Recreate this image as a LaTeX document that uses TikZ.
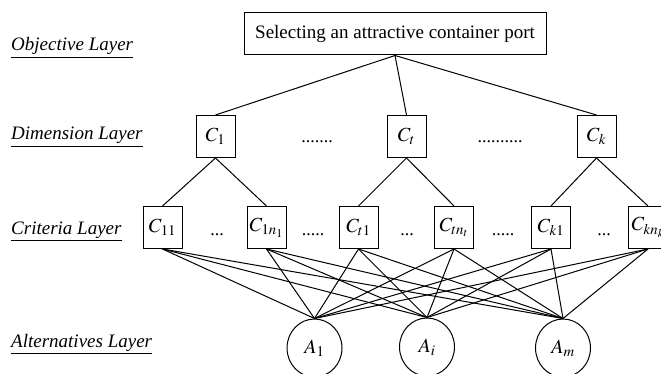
\documentclass[tikz,border=0pt]{standalone}
\usepackage{mathptmx}
\usepackage{fontspec}
\setmainfont{Liberation Serif}
\usetikzlibrary{shapes.geometric}
\tikzset{
  layer/.style={anchor=base west,inner sep=0,font=\fontsize{19}{21}\selectfont\itshape},
  goalbox/.style={draw,line width=1pt,minimum width=302pt,minimum height=42pt,inner sep=0,font=\fontsize{19}{21}\selectfont},
  critbox/.style={draw,line width=1pt,minimum width=39pt,minimum height=42pt,inner sep=0,font=\fontsize{20}{22}\selectfont},
  altnode/.style={draw,ellipse,line width=1pt,minimum width=55pt,minimum height=58pt,inner sep=0,font=\fontsize{20}{22}\selectfont},
  dots/.style={inner sep=0,font=\fontsize{18}{20}\selectfont},
  link/.style={line width=1pt}
}
\begin{document}
\begin{tikzpicture}[x=1pt,y=-1pt]
  \useasboundingbox (0,0) rectangle (661,374);
  % layer names
  \node[layer] (objlayer) at (11,51) {\underline{Objective Layer}};
  \node[layer] (dimlayer) at (11,140) {\underline{Dimension Layer}};
  \node[layer] (critlayer) at (11,234) {\underline{Criteria Layer}};
  \node[layer] (altlayer) at (11,347) {\underline{Alternatives Layer}};
  % goal
  \node[goalbox] (goal) at (395,34) {Selecting an attractive container port};
  % dimensions
  \node[critbox] (c1) at (215.5,136.5) {$C_1$};
  \node[critbox] (ct) at (406.5,136.5) {$C_t$};
  \node[critbox] (ck) at (596.5,136.5) {$C_k$};
  \node[dots] (dimdots1) at (317,142) {.......};
  \node[dots] (dimdots2) at (500,142) {..........};
  % criteria
  \node[critbox] (c11) at (162.5,227.5) {$C_{11}$};
  \node[critbox] (c1n) at (266.5,227.5) {$C_{1n_1}$};
  \node[critbox] (ct1) at (358.5,227.5) {$C_{t1}$};
  \node[critbox] (ctn) at (454,227.5) {$C_{tn_t}$};
  \node[critbox] (ck1) at (551,227.5) {$C_{k1}$};
  \node[critbox] (ckn) at (648,227.5) {$C_{kn_k}$};
  \node[dots] (critdots1) at (217,235) {...};
  \node[dots] (critdots2) at (313,235) {.....};
  \node[dots] (critdots3) at (407,235) {...};
  \node[dots] (critdots4) at (503,235) {.....};
  \node[dots] (critdots5) at (604,235) {...};
  % alternatives
  \node[altnode] (a1) at (314.5,348) {$A_1$};
  \node[altnode] (ai) at (427,347) {$A_i$};
  \node[altnode] (am) at (563,348) {$A_m$};
  % links
  \draw[link] (goal.south) -- (c1.north);
  \draw[link] (goal.south) -- (ct.north);
  \draw[link] (goal.south) -- (ck.north);
  \draw[link] (c1.south) -- (c11.north);
  \draw[link] (c1.south) -- (c1n.north);
  \draw[link] (ct.south) -- (ct1.north);
  \draw[link] (ct.south) -- (ctn.north);
  \draw[link] (ck.south) -- (ck1.north);
  \draw[link] (ck.south) -- (ckn.north);
  \foreach \crit in {c11,c1n,ct1,ctn,ck1,ckn}
    \foreach \alt in {a1,ai,am}
      \draw[link] (\crit.south) -- (\alt.north);
\end{tikzpicture}
\end{document}
